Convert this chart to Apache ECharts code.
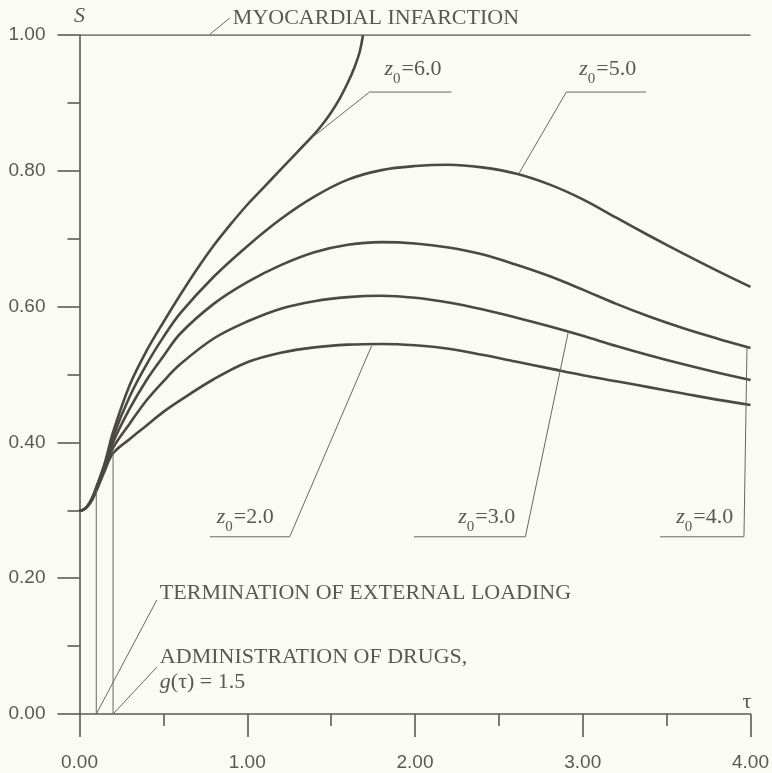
<!DOCTYPE html>
<html><head><meta charset="utf-8">
<script src="https://cdn.jsdelivr.net/npm/echarts@6/dist/echarts.min.js"></script>
<style>html,body{margin:0;padding:0;background:#fafbf3;} #c{width:772px;height:773px;}</style>
</head><body><div id="c"></div>
<script>
// ---- data ----
const xTicks = [0, 1, 2, 3, 4];
const yTicks = [0, 0.2, 0.4, 0.6, 0.8, 1.0];
const tauMain = [0,0.025,0.05,0.075,0.1,0.15,0.2,0.3,0.4,0.5,0.6,0.8,1.0,1.2,1.4,1.6,1.8,2.0,2.2,2.4,2.6,2.8,3.0,3.2,3.4,3.6,3.8,4.0];
const sZ2 = [0.300,0.301,0.306,0.315,0.328,0.358,0.384,0.405,0.425,0.445,0.462,0.493,0.518,0.532,0.540,0.544,0.545,0.543,0.538,0.529,0.519,0.509,0.499,0.490,0.481,0.472,0.463,0.455];
const sZ3 = [0.300,0.301,0.307,0.316,0.330,0.361,0.392,0.428,0.462,0.490,0.515,0.553,0.578,0.597,0.608,0.614,0.616,0.613,0.606,0.596,0.584,0.571,0.557,0.542,0.528,0.515,0.503,0.492];
const sZ4 = [0.300,0.301,0.307,0.317,0.331,0.364,0.400,0.450,0.492,0.527,0.560,0.604,0.636,0.661,0.680,0.691,0.695,0.693,0.687,0.677,0.662,0.645,0.625,0.604,0.585,0.568,0.553,0.539];
const sZ5 = [0.300,0.301,0.307,0.318,0.333,0.367,0.408,0.468,0.515,0.555,0.590,0.644,0.689,0.729,0.762,0.787,0.801,0.807,0.809,0.805,0.796,0.780,0.758,0.731,0.704,0.678,0.653,0.629];
const tauZ6 = [0,0.025,0.05,0.075,0.1,0.15,0.2,0.3,0.4,0.5,0.6,0.7,0.8,0.9,1.0,1.1,1.2,1.3,1.4,1.45,1.5,1.55,1.6,1.64,1.67,1.69];
const sZ6 = [0.300,0.301,0.307,0.318,0.334,0.369,0.415,0.485,0.535,0.577,0.617,0.655,0.690,0.721,0.750,0.776,0.802,0.828,0.854,0.869,0.886,0.906,0.930,0.953,0.975,1.000];
const infarctionLevel = 1.0;
const terminationTau = 0.1, terminationTop = 0.33;
const drugsTau = 0.2, drugsTop = 0.384;
const curveNames = ['z0=2.0','z0=3.0','z0=4.0','z0=5.0','z0=6.0'];

// ---- annotations (data coordinates) ----
const leaders = [
  [[0.777,1.001],[0.896,1.025]],
  [[terminationTau,0],[0.461,0.168]],
  [[drugsTau,0],[0.461,0.069]],
  [[1.402,0.852],[1.729,0.916],[2.217,0.916]],
  [[2.622,0.797],[2.902,0.916],[3.378,0.916]],
  [[1.741,0.542],[1.253,0.261],[0.777,0.261]],
  [[2.914,0.563],[2.658,0.261],[1.994,0.261]],
  [[3.979,0.539],[3.961,0.261],[3.461,0.261]]
];
const labels = [
  {t:'MYOCARDIAL INFARCTION', at:[0.914,1.024]},
  {t:'TERMINATION OF EXTERNAL LOADING', at:[0.479,0.178]},
  {t:'ADMINISTRATION OF DRUGS,', at:[0.479,0.084]},
  {rich:'{i|g}{n|(τ) = 1.5}', at:[0.479,0.044]},
  {rich:'{i|z}{s|0}{n|=6.0}', at:[1.818,0.946]},
  {rich:'{i|z}{s|0}{n|=5.0}', at:[2.979,0.946]},
  {rich:'{i|z}{s|0}{n|=2.0}', at:[0.818,0.287]},
  {rich:'{i|z}{s|0}{n|=3.0}', at:[2.258,0.287]},
  {rich:'{i|z}{s|0}{n|=4.0}', at:[3.557,0.287]},
  {t:'τ', at:[3.979,0.018], center:true}
];

const zip = (xs, ys) => xs.map((x, i) => [x, ys[i]]);
const AX = '#5c5b52', CURVE = '#4a4a41', TXT = '#5a5950', THIN = '#6a6960';
const SERIF = '"Liberation Serif", "DejaVu Serif", serif';
const SANS = '"Liberation Sans", Arial, sans-serif';

const chart = echarts.init(document.getElementById('c'), null, {renderer:'canvas'});
const curveData = [zip(tauMain,sZ2), zip(tauMain,sZ3), zip(tauMain,sZ4), zip(tauMain,sZ5), zip(tauZ6,sZ6)];

const series = curveData.map((d, i) => ({
  name: curveNames[i], type:'line', data:d, showSymbol:false, symbol:'none',
  smooth:0.35, lineStyle:{color:CURVE, width:2.6}, silent:true, z:3
}));
series.push({type:'line', data:[[0,infarctionLevel],[4,infarctionLevel]], symbol:'none', lineStyle:{color:AX,width:1.6}, silent:true});
series.push({type:'line', data:[[terminationTau,0],[terminationTau,terminationTop]], symbol:'none', lineStyle:{color:THIN,width:1}, silent:true});
series.push({type:'line', data:[[drugsTau,0],[drugsTau,drugsTop]], symbol:'none', lineStyle:{color:THIN,width:1}, silent:true});

chart.setOption({
  backgroundColor:'#fafbf3',
  animation:false,
  grid:{left:79.5, right:20.5, top:35, bottom:59, containLabel:false},
  xAxis:{type:'value', min:xTicks[0], max:xTicks[xTicks.length-1], interval:1,
    axisLine:{show:true, onZero:false, lineStyle:{color:AX,width:1.6}},
    axisTick:{show:true, inside:false, length:23, lineStyle:{color:AX,width:1.6}},
    minorTick:{show:true, splitNumber:2, length:12, lineStyle:{color:AX,width:1.6}},
    splitLine:{show:false},
    axisLabel:{margin:39, color:TXT, fontFamily:SANS, fontSize:19, formatter:v=>v.toFixed(2)}
  },
  yAxis:{type:'value', min:yTicks[0], max:yTicks[yTicks.length-1], interval:0.2,
    name:'S', nameLocation:'end', nameGap:8,
    nameTextStyle:{color:TXT, fontFamily:SERIF, fontStyle:'italic', fontSize:22, align:'center'},
    axisLine:{show:true, onZero:false, lineStyle:{color:AX,width:1.6}},
    axisTick:{show:true, inside:false, length:22, lineStyle:{color:AX,width:1.6}},
    minorTick:{show:true, splitNumber:2, length:12, lineStyle:{color:AX,width:1.6}},
    splitLine:{show:false},
    axisLabel:{margin:34, color:TXT, fontFamily:SANS, fontSize:19, formatter:v=>v.toFixed(2)}
  },
  series
});

const P = p => chart.convertToPixel({gridIndex:0}, p);
const graphic = [];
leaders.forEach(pts => {
  graphic.push({type:'polyline', silent:true, shape:{points:pts.map(P)}, style:{stroke:THIN, lineWidth:1, fill:null}, z:10});
});
const rich = {
  i:{fontFamily:SERIF, fontStyle:'italic', fontSize:22, fill:TXT, verticalAlign:'top', lineHeight:26},
  n:{fontFamily:SERIF, fontSize:22, fill:TXT, verticalAlign:'top', lineHeight:26},
  s:{fontFamily:SERIF, fontSize:15, fill:TXT, verticalAlign:'top', lineHeight:15, padding:[13,1,0,0]}
};
labels.forEach(l => {
  const [x,y] = P(l.at);
  const style = l.rich
    ? {text:l.rich, rich, x, y, fill:TXT, align:'left', verticalAlign:'middle'}
    : {text:l.t, x, y, fill:TXT, font:'22px ' + SERIF, align:l.center?'center':'left', verticalAlign:'middle'};
  graphic.push({type:'text', silent:true, style, z:10});
});
chart.setOption({graphic});
</script></body></html>
